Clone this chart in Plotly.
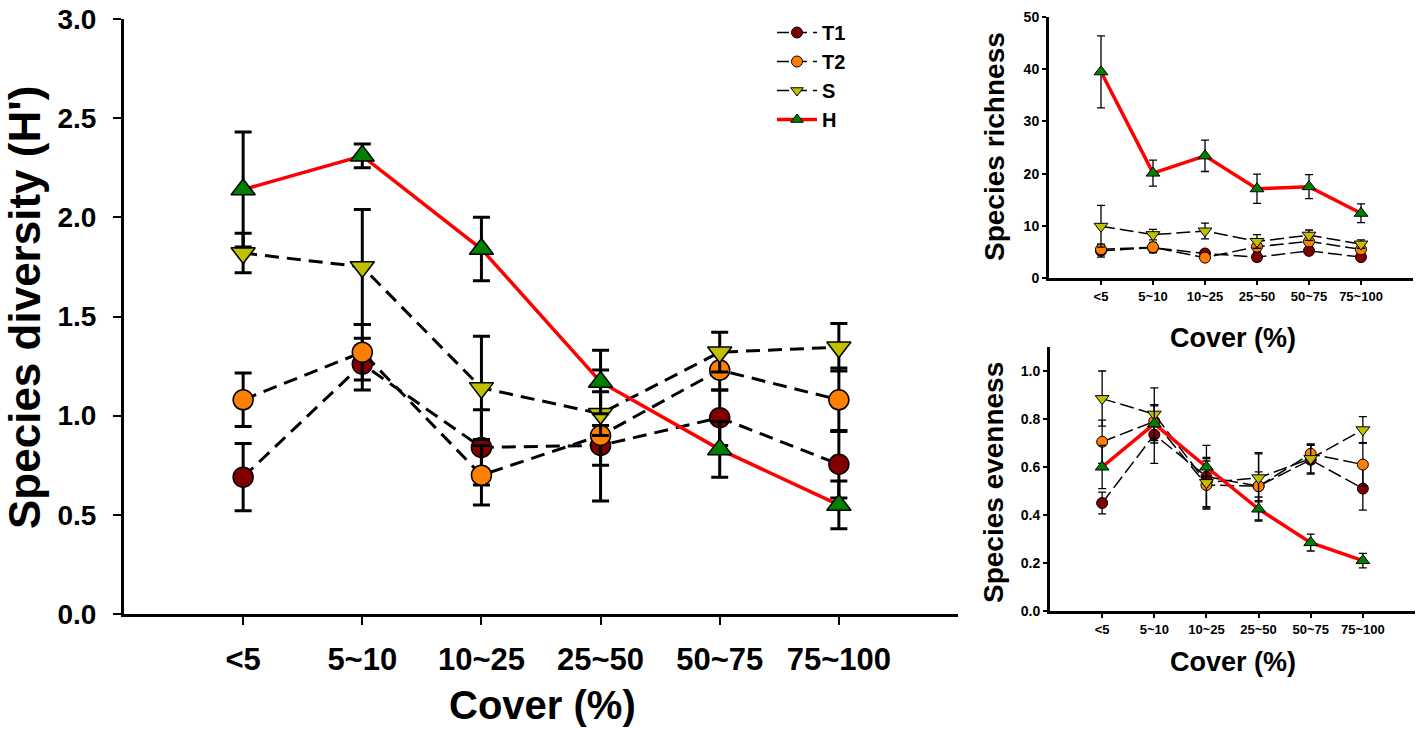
import plotly.graph_objects as go

W, H = 1418, 738

cover = ["<5", "5~10", "10~25", "25~50", "50~75", "75~100"]
series_names = ["T1", "T2", "S", "H"]

# Species diversity (H')
div_T1 = [0.69, 1.26, 0.84, 0.85, 0.99, 0.755]
div_T1_err = [0.17, 0.13, 0.19, 0.10, 0.14, 0.17]
div_T2 = [1.08, 1.32, 0.70, 0.90, 1.23, 1.08]
div_T2_err = [0.135, 0.14, 0.15, 0.33, 0.10, 0.16]
div_S = [1.82, 1.75, 1.14, 1.01, 1.32, 1.345]
div_S_err = [0.10, 0.29, 0.26, 0.11, 0.10, 0.12]
div_H = [2.14, 2.31, 1.84, 1.17, 0.83, 0.55]
div_H_err = [0.29, 0.06, 0.16, 0.16, 0.14, 0.12]

# Species richness
ric_T1 = [5.2, 5.8, 4.7, 4.0, 5.2, 4.0]
ric_T1_err = [1.2, 1.0, 0.6, 0.8, 0.7, 0.6]
ric_T2 = [5.5, 5.9, 3.9, 6.0, 7.0, 5.5]
ric_T2_err = [1.0, 0.8, 0.5, 1.0, 0.8, 0.7]
ric_S = [9.9, 8.3, 9.0, 7.0, 8.2, 6.5]
ric_S_err = [4.0, 1.0, 1.5, 1.3, 1.0, 0.8]
ric_H = [39.5, 20.1, 23.4, 17.1, 17.5, 12.4]
ric_H_err = [6.9, 2.5, 3.0, 2.8, 2.3, 1.8]

# Species evenness
eve_T1 = [0.45, 0.735, 0.56, 0.52, 0.63, 0.51]
eve_T1_err = [0.045, 0.12, 0.13, 0.14, 0.06, 0.09]
eve_T2 = [0.705, 0.79, 0.525, 0.52, 0.655, 0.61]
eve_T2_err = [0.09, 0.07, 0.10, 0.06, 0.04, 0.09]
eve_S = [0.885, 0.82, 0.535, 0.555, 0.635, 0.755]
eve_S_err = [0.115, 0.11, 0.10, 0.10, 0.06, 0.055]
eve_H = [0.60, 0.78, 0.60, 0.425, 0.285, 0.21]
eve_H_err = [0.09, 0.08, 0.04, 0.05, 0.035, 0.03]

fill = {"T1": "#800000", "T2": "#FF8000", "S": "#C0C000", "H": "#008000"}
symbol = {"T1": "circle", "T2": "circle", "S": "triangle-down", "H": "triangle-up"}

FONT = "Arial, Liberation Sans, sans-serif"

panels = [
    ("x", "y", {"T1": (div_T1, div_T1_err), "T2": (div_T2, div_T2_err),
                "S": (div_S, div_S_err), "H": (div_H, div_H_err)}, "big"),
    ("x2", "y2", {"T1": (ric_T1, ric_T1_err), "T2": (ric_T2, ric_T2_err),
                  "S": (ric_S, ric_S_err), "H": (ric_H, ric_H_err)}, "small"),
    ("x3", "y3", {"T1": (eve_T1, eve_T1_err), "T2": (eve_T2, eve_T2_err),
                  "S": (eve_S, eve_S_err), "H": (eve_H, eve_H_err)}, "small"),
]

fig = go.Figure()
for xa, ya, data, kind in panels:
    big = kind == "big"
    for name in series_names:
        vals, errs = data[name]
        if name == "H":
            line = dict(color="#FF0000", width=3.5)
        else:
            line = dict(color="black", width=3 if big else 1.5,
                        dash="14px,8px" if big else "14px,5px")
        if name in ("T1", "T2"):
            msize = 20 if big else 11
        else:
            msize = 21 if big else 12
        fig.add_trace(go.Scatter(
            x=cover, y=vals, xaxis=xa, yaxis=ya, name=name, showlegend=False,
            mode="lines+markers", line=line,
            marker=dict(symbol=symbol[name], size=msize,
                        color=fill[name], line=dict(color="black", width=1.5 if big else 1)),
            error_y=dict(type="data", array=errs, visible=True, color="black",
                         thickness=3 if big else 1.3, width=8.5 if big else 4),
        ))

# legend entries
for name in series_names:
    if name == "H":
        line = dict(color="#FF0000", width=3.5)
    else:
        line = dict(color="black", width=1.5, dash="12px,6px")
    fig.add_trace(go.Scatter(
        x=[None], y=[None], xaxis="x", yaxis="y", name=name, mode="lines+markers",
        line=line,
        marker=dict(symbol=symbol[name], size=11, color=fill[name],
                    line=dict(color="black", width=1)),
    ))

def px_x(p):
    return p / W

def px_y(p):
    return 1 - p / H

axis_common = dict(showgrid=False, zeroline=False, showline=True, linecolor="black",
                   ticks="outside", tickcolor="black", mirror=False, automargin=False,
                   ticklabeloverflow="allow")

fig.update_layout(
    width=W, height=H, margin=dict(l=0, r=0, t=0, b=0, autoexpand=False),
    paper_bgcolor="white", plot_bgcolor="white",
    font=dict(family=FONT, color="black"),
    showlegend=True,
    legend=dict(x=px_x(772), y=px_y(13), xanchor="left", yanchor="top",
                font=dict(size=20, family=FONT, weight="bold"),
                bgcolor="rgba(0,0,0,0)", tracegroupgap=0, itemwidth=40),
    xaxis=dict(domain=[px_x(124), px_x(958)], anchor="y", type="category",
               range=[-1, 6], linewidth=3, tickwidth=2, ticklen=8,
               tickfont=dict(size=31, family=FONT, weight="bold"),
               ticklabelstandoff=8, **axis_common),
    yaxis=dict(domain=[px_y(614), px_y(19)], anchor="x", range=[0, 3],
               tickvals=[0, 0.5, 1, 1.5, 2, 2.5, 3],
               ticktext=["0.0", "0.5", "1.0", "1.5", "2.0", "2.5", "3.0"],
               linewidth=3, tickwidth=2, ticklen=8,
               tickfont=dict(size=28, family=FONT, weight="bold"),
               ticklabelstandoff=11, **axis_common),
    xaxis2=dict(domain=[px_x(1049), px_x(1413)], anchor="y2", type="category",
                range=[-1, 6], linewidth=3, tickwidth=1.5, ticklen=4,
                tickfont=dict(size=13, family=FONT, weight="bold"),
                ticklabelstandoff=0, **axis_common),
    yaxis2=dict(domain=[px_y(278), px_y(17)], anchor="x2", range=[0, 50],
                tickvals=[0, 10, 20, 30, 40, 50],
                linewidth=3, tickwidth=1.5, ticklen=4,
                tickfont=dict(size=14, family=FONT, weight="bold"),
                ticklabelstandoff=0, **axis_common),
    xaxis3=dict(domain=[px_x(1050), px_x(1415)], anchor="y3", type="category",
                range=[-1, 6], linewidth=3, tickwidth=1.5, ticklen=4,
                tickfont=dict(size=13, family=FONT, weight="bold"),
                ticklabelstandoff=0, **axis_common),
    yaxis3=dict(domain=[px_y(611), px_y(347)], anchor="x3", range=[0, 1.1],
                tickvals=[0, 0.2, 0.4, 0.6, 0.8, 1.0],
                ticktext=["0.0", "0.2", "0.4", "0.6", "0.8", "1.0"],
                linewidth=3, tickwidth=1.5, ticklen=4,
                tickfont=dict(size=14, family=FONT, weight="bold"),
                ticklabelstandoff=0, **axis_common),
)

def title(text, x, y, size, angle=0):
    fig.add_annotation(text=text, xref="paper", yref="paper", x=px_x(x), y=px_y(y),
                       xanchor="center", yanchor="middle", showarrow=False,
                       textangle=angle, font=dict(size=size, family=FONT, weight="bold"))

title("Species diversity (H')", 24, 308, 44, -90)
title("Cover (%)", 542, 705, 40)
title("Species richness", 994, 147, 28, -90)
title("Cover (%)", 1233, 338, 27)
title("Species evenness", 994, 483, 28, -90)
title("Cover (%)", 1233, 662, 27)

fig.write_html(
    "out.html",
    config={"displayModeBar": False},
    post_script="document.body.style.margin='0';document.body.style.overflow='hidden';",
)
